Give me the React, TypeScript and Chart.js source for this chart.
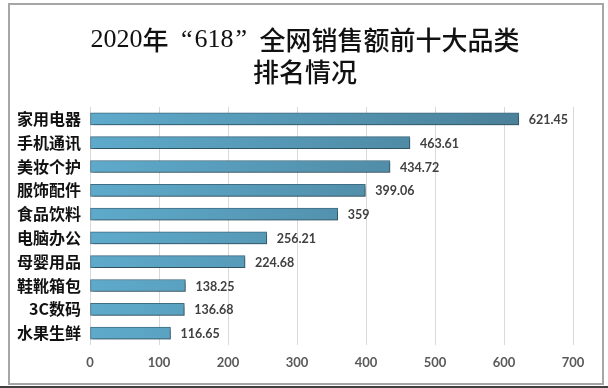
import React, { useEffect, useRef } from "react";
import { Chart, registerables } from "chart.js";

Chart.register(...registerables);

const categories = ["家用电器", "手机通讯", "美妆个护", "服饰配件", "食品饮料", "电脑办公", "母婴用品", "鞋靴箱包", "3C数码", "水果生鲜"];
const sales = [621.45, 463.61, 434.72, 399.06, 359, 256.21, 224.68, 138.25, 136.68, 116.65];
const valueLabels = ["621.45", "463.61", "434.72", "399.06", "359", "256.21", "224.68", "138.25", "136.68", "116.65"];
const titleLine1 = ["2020", "年", "“", "618", "”", "全网销售额前十大品类"];
const titleLine2 = "排名情况";

const TITLE_SIZE = 26;
const SERIF = `${TITLE_SIZE}px 'Liberation Serif', 'DejaVu Serif', serif`;
const CJK = `500 ${TITLE_SIZE}px 'Noto Sans CJK SC', sans-serif`;

const titlePlugin = {
  id: "customTitle",
  afterDraw(chart: any) {
    const ctx = chart.ctx;
    ctx.save();
    ctx.fillStyle = "#111111";
    ctx.textBaseline = "middle";
    ctx.textAlign = "left";
    const cx = 305;
    // segment layout for line 1
    type Seg = { text: string; font: string; w: number; align: "left" | "right" | "center" };
    const segs: Seg[] = [];
    titleLine1.forEach((t) => {
      if (t === "“" || t === "”") {
        segs.push({ text: t, font: SERIF, w: TITLE_SIZE, align: t === "“" ? "right" : "left" });
      } else if (/^[0-9]+$/.test(t)) {
        ctx.font = SERIF;
        segs.push({ text: t, font: SERIF, w: ctx.measureText(t).width, align: "left" });
      } else {
        ctx.font = CJK;
        segs.push({ text: t, font: CJK, w: ctx.measureText(t).width, align: "left" });
      }
    });
    const total = segs.reduce((s, g) => s + g.w, 0);
    let x = cx - total / 2;
    const y1 = 40;
    segs.forEach((g) => {
      ctx.font = g.font;
      if (g.align === "right") {
        const tw = ctx.measureText(g.text).width;
        ctx.fillText(g.text, x + g.w - tw - 2, y1);
      } else if (g.text === "”") {
        ctx.fillText(g.text, x + 2, y1);
      } else {
        ctx.fillText(g.text, x, y1);
      }
      x += g.w;
    });
    ctx.font = CJK;
    ctx.textAlign = "center";
    ctx.fillText(titleLine2, cx, 72);
    ctx.restore();
  },
};

const shadowPlugin = {
  id: "barShadow",
  beforeDatasetsDraw(chart: any) {
    const ctx = chart.ctx;
    ctx.save();
    ctx.shadowColor = "rgba(0,0,0,0.35)";
    ctx.shadowOffsetX = 2;
    ctx.shadowOffsetY = 2;
    ctx.shadowBlur = 3;
  },
  afterDatasetsDraw(chart: any) {
    chart.ctx.restore();
  },
};

const labelPlugin = {
  id: "valueLabels",
  afterDatasetsDraw(chart: any) {
    const ctx = chart.ctx;
    const meta = chart.getDatasetMeta(0);
    ctx.save();
    ctx.font = "bold 12.5px Lato, 'Open Sans', sans-serif";
    ctx.fillStyle = "#404040";
    ctx.textAlign = "left";
    ctx.textBaseline = "middle";
    meta.data.forEach((bar: any, i: number) => {
      ctx.fillText(valueLabels[i], bar.x + 10, bar.y + 1);
    });
    ctx.restore();
  },
};

export default function App() {
  const ref = useRef<HTMLCanvasElement>(null);
  useEffect(() => {
    const canvas = ref.current!;
    const ctx = canvas.getContext("2d")!;
    const grad = ctx.createLinearGradient(90, 0, 573, 0);
    grad.addColorStop(0, "#5eaacb");
    grad.addColorStop(1, "#487b92");
    const chart = new Chart(canvas, {
      type: "bar",
      data: {
        labels: categories,
        datasets: [
          {
            data: sales,
            backgroundColor: grad,
            borderColor: "#3f6e84",
            borderWidth: 1,
            borderSkipped: false,
            barThickness: 12,
          },
        ],
      },
      options: {
        indexAxis: "y",
        animation: false,
        responsive: false,
        maintainAspectRatio: false,
        layout: { padding: { left: 0, right: 35, top: 107, bottom: 0 } },
        plugins: {
          legend: { display: false },
          tooltip: { enabled: false },
          title: { display: false },
        },
        scales: {
          x: {
            min: 0,
            max: 700,
            ticks: {
              stepSize: 100,
              color: "#595959",
              padding: 10,
              font: { size: 13, weight: "bold", family: "Lato, 'Open Sans', sans-serif" },
            },
            grid: { color: "#d9d9d9", drawTicks: false },
            border: { display: false },
            afterFit(scale: any) {
              scale.height = 43;
            },
          },
          y: {
            ticks: {
              color: "#111111",
              padding: 9,
              font: { size: 16, weight: "bold", family: "'Noto Sans CJK SC', sans-serif" },
            },
            grid: { display: false, drawTicks: false },
            border: { display: false },
            afterFit(scale: any) {
              scale.width = 90;
            },
          },
        },
      },
      plugins: [shadowPlugin, labelPlugin, titlePlugin],
    });
    return () => chart.destroy();
  }, []);

  return (
    <div style={{ position: "absolute", left: 0, top: 0, width: 608, height: 388, background: "#ffffff", overflow: "hidden" }}>
      <div
        style={{
          position: "absolute",
          left: 8,
          top: 3,
          width: 592,
          height: 378,
          border: "2px solid #a6a6a6",
          boxSizing: "content-box",
        }}
      />
      <div style={{ position: "absolute", left: 0, top: 386, width: 608, height: 2, background: "#404040" }} />
      <canvas ref={ref} width={608} height={388} style={{ position: "absolute", left: 0, top: 0, width: 608, height: 388 }} />
    </div>
  );
}
